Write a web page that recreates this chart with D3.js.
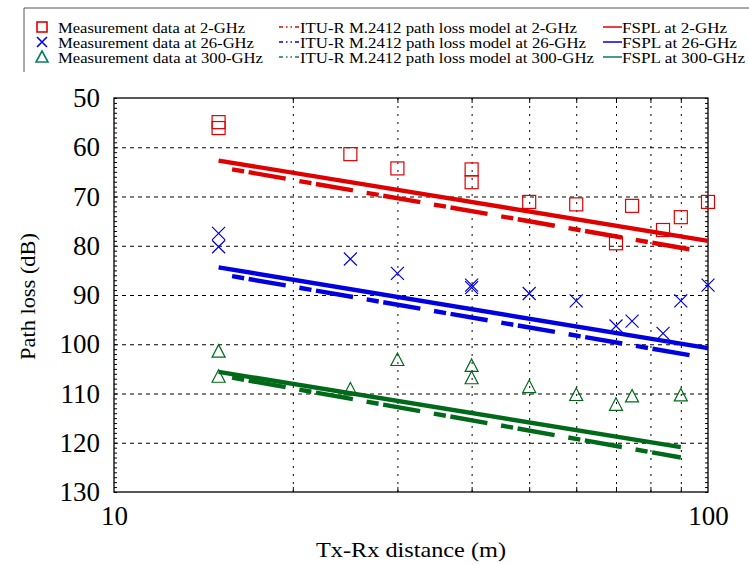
<!DOCTYPE html>
<html><head><meta charset="utf-8">
<script src="https://cdn.jsdelivr.net/npm/d3@7"></script>
<style>
html,body{margin:0;padding:0;background:#fff;}
svg text{font-family:"Liberation Serif","DejaVu Serif","Times New Roman",serif;}
</style></head>
<body>
<svg id="c" width="749" height="565"></svg>
<script>
// ---------- data ----------
const yTicks = [50,60,70,80,90,100,110,120,130];
const xTickLabels = [10,100];
const xGrid = [20,30,40,50,60,70,80,90];

const dist2 = [15,15,25,30,40,40,50,60,70,74.5,84,90,100];
const meas2 = [54.9,56.1,61.4,64.3,64.5,67.1,71.1,71.6,79.5,71.9,76.8,74.2,71.1];

const dist26 = [15,15,25,30,40,40,50,60,70,74.5,84,90,100];
const meas26 = [77.5,80.2,82.7,85.6,88.0,88.5,89.7,91.2,96.3,95.3,97.8,91.2,88.0];

const dist300 = [15,15,25,30,40,40,50,60,70,74.5,90];
const meas300 = [101.5,106.6,109.2,103.2,104.4,106.9,108.7,110.3,112.3,110.6,110.4];

const ituDist2 = [15,95];   const itu2 = [64.0,80.9];
const ituDist26 = [15,95];  const itu26 = [85.7,102.4];
const ituDist300 = [15,90]; const itu300 = [106.3,123.0];

const fsplDist2 = [15,100];  const fspl2 = [62.7,79.0];
const fsplDist26 = [15,100]; const fspl26 = [84.4,100.8];
const fsplDist300 = [15,90]; const fspl300 = [105.6,120.9];

const legendMeas = ["Measurement data at 2-GHz","Measurement data at 26-GHz","Measurement data at 300-GHz"];
const legendItu = ["ITU-R M.2412 path loss model at 2-GHz","ITU-R M.2412 path loss model at 26-GHz","ITU-R M.2412 path loss model at 300-GHz"];
const legendFspl = ["FSPL at 2-GHz","FSPL at 26-GHz","FSPL at 300-GHz"];

// ---------- drawing ----------
const FONT = "Liberation Serif, DejaVu Serif, serif";
const RED="#e00000", BLUE="#0000e0", GREEN="#006a1a", LGREEN="#0a7d5c";
const svg = d3.select("#c");
const L=114, R=708, T=98, B=492;
const x = d3.scaleLog().domain([10,100]).range([L,R]);
const y = d3.scaleLinear().domain([50,130]).range([T,B]);

// grid
const gGrid = svg.append("g");
gGrid.append("g").attr("transform",`translate(${L},0)`)
  .call(d3.axisLeft(y).tickValues(yTicks.filter(v=>v>50&&v<130)).tickSize(-(R-L)).tickFormat(""))
  .call(g=>g.select(".domain").remove())
  .selectAll("line").attr("stroke","#000").attr("stroke-width",1).attr("stroke-dasharray","4,4");
gGrid.append("g").attr("transform",`translate(0,${B})`)
  .call(d3.axisBottom(x).tickValues(xGrid).tickSize(-(B-T)).tickFormat(""))
  .call(g=>g.select(".domain").remove())
  .selectAll("line").attr("stroke","#000").attr("stroke-width",1).attr("stroke-dasharray","2,6");

// minor ticks
const minor = d3.range(50,131,1);
svg.append("g").attr("transform",`translate(${L},0)`)
  .call(d3.axisLeft(y).tickValues(minor).tickSize(-3).tickFormat(""))
  .call(g=>g.select(".domain").remove()).selectAll("line").attr("stroke","#000");
svg.append("g").attr("transform",`translate(${R},0)`)
  .call(d3.axisRight(y).tickValues(minor).tickSize(-3).tickFormat(""))
  .call(g=>g.select(".domain").remove()).selectAll("line").attr("stroke","#000");
svg.append("g").attr("transform",`translate(0,${B})`)
  .call(d3.axisBottom(x).tickValues(xGrid).tickSize(-5).tickFormat(""))
  .call(g=>g.select(".domain").remove()).selectAll("line").attr("stroke","#000");
svg.append("g").attr("transform",`translate(0,${T})`)
  .call(d3.axisTop(x).tickValues(xGrid).tickSize(-5).tickFormat(""))
  .call(g=>g.select(".domain").remove()).selectAll("line").attr("stroke","#000");

// tick labels
const yAx = svg.append("g").attr("transform",`translate(${L},0)`)
  .call(d3.axisLeft(y).tickValues(yTicks).tickSize(0).tickPadding(14).tickFormat(d3.format("d")));
yAx.select(".domain").remove();
yAx.attr("font-family",FONT);
yAx.selectAll("text").attr("font-size",27).attr("font-family",FONT).attr("fill","#000");
const xAx = svg.append("g").attr("transform",`translate(0,${B})`)
  .call(d3.axisBottom(x).tickValues(xTickLabels).tickSize(0).tickPadding(14).tickFormat(d3.format("d")));
xAx.select(".domain").remove();
xAx.attr("font-family",FONT);
xAx.selectAll("text").attr("font-size",27).attr("font-family",FONT).attr("fill","#000");

// frame
svg.append("rect").attr("x",L).attr("y",T).attr("width",R-L).attr("height",B-T)
  .attr("fill","none").attr("stroke","#000").attr("stroke-width",1.3);

// axis titles
svg.append("text").attr("x",316).attr("y",557).attr("font-family",FONT)
  .attr("font-size",22).attr("textLength",190).attr("lengthAdjust","spacingAndGlyphs").text("Tx-Rx distance (m)");
svg.append("text").attr("transform","translate(35,360) rotate(-90)").attr("font-family",FONT)
  .attr("font-size",22).attr("textLength",127).attr("lengthAdjust","spacingAndGlyphs").text("Path loss (dB)");

// lines
const line = d3.line().x(d=>x(d[0])).y(d=>y(d[1]));
const plotArea = svg.append("g");
function drawLine(xs, ys, color, dashed){
  const p = plotArea.append("path").datum(xs.map((v,i)=>[v,ys[i]]))
    .attr("d",line).attr("fill","none").attr("stroke",color).attr("stroke-width",4.4);
  if(dashed) p.attr("stroke-dasharray","12.2,4.6,37.6,13.9").attr("stroke-dashoffset",54.6);
}
drawLine(fsplDist2,fspl2,RED,false);
drawLine(ituDist2,itu2,RED,true);
drawLine(fsplDist26,fspl26,BLUE,false);
drawLine(ituDist26,itu26,BLUE,true);
drawLine(fsplDist300,fspl300,GREEN,false);
drawLine(ituDist300,itu300,GREEN,true);

// markers
const S=6.5;
plotArea.selectAll(".sq").data(dist2.map((v,i)=>[v,meas2[i]])).join("rect")
  .attr("x",d=>x(d[0])-S).attr("y",d=>y(d[1])-S).attr("width",2*S).attr("height",2*S)
  .attr("fill","none").attr("stroke",RED).attr("stroke-width",1.2);
plotArea.selectAll(".cr").data(dist26.map((v,i)=>[v,meas26[i]])).join("path")
  .attr("d",d=>{const cx=x(d[0]),cy=y(d[1]);return `M${cx-S},${cy-S}L${cx+S},${cy+S}M${cx-S},${cy+S}L${cx+S},${cy-S}`;})
  .attr("fill","none").attr("stroke",BLUE).attr("stroke-width",1.2);
plotArea.selectAll(".tr").data(dist300.map((v,i)=>[v,meas300[i]])).join("path")
  .attr("d",d=>{const cx=x(d[0]),cy=y(d[1]);return `M${cx},${cy-7}L${cx+6.5},${cy+5.5}L${cx-6.5},${cy+5.5}Z`;})
  .attr("fill","none").attr("stroke",GREEN).attr("stroke-width",1.2);

// legend
const lg = svg.append("g").attr("font-family",FONT);
lg.append("path").attr("d","M24,72V8H760").attr("fill","none").attr("stroke","#555").attr("stroke-width",1);
const rows=[33,48,63];
const mcol=[RED,BLUE,LGREEN];
const w1=[187,196,205], w2=[277,286,294], w3=[105,115,123];
rows.forEach((ry,i)=>{
  const cx=42, cy=ry-6;
  if(i===0) lg.append("rect").attr("x",cx-5).attr("y",cy-5).attr("width",10).attr("height",10).attr("fill","none").attr("stroke",RED).attr("stroke-width",1.6);
  if(i===1) lg.append("path").attr("d",`M${cx-5},${cy-5}L${cx+5},${cy+5}M${cx-5},${cy+5}L${cx+5},${cy-5}`).attr("stroke",BLUE).attr("stroke-width",1.6);
  if(i===2) lg.append("path").attr("d",`M${cx},${cy-6}L${cx+6},${cy+5}L${cx-6},${cy+5}Z`).attr("fill","none").attr("stroke",LGREEN).attr("stroke-width",1.6);
  lg.append("text").attr("x",58).attr("y",ry).attr("font-size",14.5).attr("font-family",FONT)
    .attr("textLength",w1[i]).attr("lengthAdjust","spacingAndGlyphs").text(legendMeas[i]);
  lg.append("line").attr("x1",279).attr("x2",299).attr("y1",ry-6).attr("y2",ry-6)
    .attr("stroke",mcol[i]).attr("stroke-width",1.5).attr("stroke-dasharray","4,3,1.5,3,1.5,3");
  lg.append("text").attr("x",300).attr("y",ry).attr("font-size",14.5).attr("font-family",FONT)
    .attr("textLength",w2[i]).attr("lengthAdjust","spacingAndGlyphs").text(legendItu[i]);
  lg.append("line").attr("x1",603).attr("x2",622).attr("y1",ry-6).attr("y2",ry-6)
    .attr("stroke",mcol[i]).attr("stroke-width",1.5);
  lg.append("text").attr("x",622).attr("y",ry).attr("font-size",14.5).attr("font-family",FONT)
    .attr("textLength",w3[i]).attr("lengthAdjust","spacingAndGlyphs").text(legendFspl[i]);
});
</script>
</body></html>
